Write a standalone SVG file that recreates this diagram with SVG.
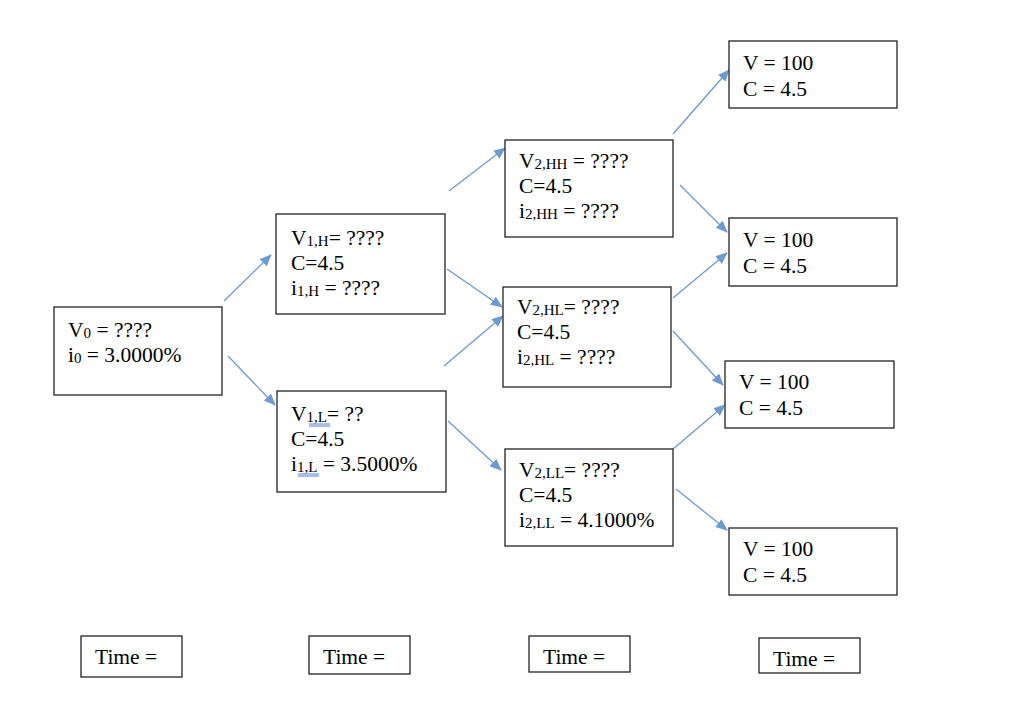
<svg xmlns="http://www.w3.org/2000/svg" width="1024" height="728" viewBox="0 0 1024 728" font-family="'Liberation Serif', 'Times New Roman', serif">
<style>
.box{fill:#fff;stroke:#222;stroke-width:1.3}
.t{font-family:'Liberation Serif','Times New Roman',serif;font-size:21.5px;fill:#000}
.s{font-size:15px}
.c{stroke:#6C9BD2;stroke-width:1.3;fill:none;marker-end:url(#ah)}
.sq{stroke:#3B6FD8;stroke-width:0.9}
</style>
<defs>
<marker id="ah" markerWidth="12" markerHeight="10" refX="11" refY="5" orient="auto" markerUnits="userSpaceOnUse">
<path d="M0,0 L12,5 L0,10 Z" fill="#6C9BD2"/>
</marker>
</defs>
<rect width="1024" height="728" fill="#fff"/>
<g id="connectors">
<line class="c" x1="224" y1="301" x2="271" y2="255"/>
<line class="c" x1="228" y1="356" x2="275" y2="405"/>
<line class="c" x1="449" y1="191" x2="505" y2="148"/>
<line class="c" x1="447" y1="269" x2="502" y2="307"/>
<line class="c" x1="444" y1="366" x2="503" y2="316"/>
<line class="c" x1="448" y1="421" x2="501" y2="470"/>
<line class="c" x1="673" y1="134" x2="729" y2="70"/>
<line class="c" x1="680" y1="185" x2="727" y2="232"/>
<line class="c" x1="673" y1="298" x2="727" y2="253"/>
<line class="c" x1="673" y1="331" x2="723" y2="385"/>
<line class="c" x1="673" y1="449" x2="725" y2="405"/>
<line class="c" x1="676" y1="489" x2="727" y2="530"/>
</g>
<g id="v0">
<rect class="box" x="54" y="307" width="168" height="88"/>
<text class="t" x="68" y="337">V<tspan class="s" dy="1">0</tspan><tspan dy="-1"> = ????</tspan></text>
<text class="t" x="68" y="362">i<tspan class="s" dy="1">0</tspan><tspan dy="-1"> = 3.0000%</tspan></text>
</g>
<g id="v1h">
<rect class="box" x="276" y="214" width="169" height="100"/>
<text class="t" x="291" y="245">V<tspan class="s" dy="1">1,H</tspan><tspan dy="-1">= ????</tspan></text>
<text class="t" x="291" y="270">C=4.5</text>
<text class="t" x="291" y="295">i<tspan class="s" dy="1">1,H</tspan><tspan dy="-1"> = ????</tspan></text>
</g>
<g id="v1l">
<rect class="box" x="277" y="391" width="169" height="101"/>
<text class="t" x="291" y="421">V<tspan class="s" dy="1">1,L</tspan><tspan dy="-1">= ??</tspan></text>
<text class="t" x="291" y="446">C=4.5</text>
<text class="t" x="291" y="471">i<tspan class="s" dy="1">1,L</tspan><tspan dy="-1"> = 3.5000%</tspan></text>
<line class="sq" x1="309" y1="424" x2="330" y2="424"/>
<line class="sq" x1="309" y1="426" x2="330" y2="426"/>
<line class="sq" x1="298" y1="474" x2="319" y2="474"/>
<line class="sq" x1="298" y1="476" x2="319" y2="476"/>
</g>
<g id="v2hh">
<rect class="box" x="505" y="140" width="168" height="97"/>
<text class="t" x="519" y="168">V<tspan class="s" dy="1">2,HH</tspan><tspan dy="-1"> = ????</tspan></text>
<text class="t" x="519" y="193">C=4.5</text>
<text class="t" x="519" y="218">i<tspan class="s" dy="1">2,HH</tspan><tspan dy="-1"> = ????</tspan></text>
</g>
<g id="v2hl">
<rect class="box" x="503" y="287" width="168" height="100"/>
<text class="t" x="517" y="314">V<tspan class="s" dy="1">2,HL</tspan><tspan dy="-1">= ????</tspan></text>
<text class="t" x="517" y="339">C=4.5</text>
<text class="t" x="517" y="364">i<tspan class="s" dy="1">2,HL</tspan><tspan dy="-1"> = ????</tspan></text>
</g>
<g id="v2ll">
<rect class="box" x="505" y="449" width="168" height="97"/>
<text class="t" x="519" y="477">V<tspan class="s" dy="1">2,LL</tspan><tspan dy="-1">= ????</tspan></text>
<text class="t" x="519" y="502">C=4.5</text>
<text class="t" x="519" y="527">i<tspan class="s" dy="1">2,LL</tspan><tspan dy="-1"> = 4.1000%</tspan></text>
</g>
<g id="r1">
<rect class="box" x="729" y="41" width="168" height="67"/>
<text class="t" x="743" y="70">V = 100</text>
<text class="t" x="743" y="96">C = 4.5</text>
</g>
<g id="r2">
<rect class="box" x="729" y="218" width="168" height="68"/>
<text class="t" x="743" y="247">V = 100</text>
<text class="t" x="743" y="273">C = 4.5</text>
</g>
<g id="r3">
<rect class="box" x="725" y="361" width="169" height="67"/>
<text class="t" x="739" y="389">V = 100</text>
<text class="t" x="739" y="415">C = 4.5</text>
</g>
<g id="r4">
<rect class="box" x="729" y="528" width="168" height="67"/>
<text class="t" x="743" y="556">V = 100</text>
<text class="t" x="743" y="582">C = 4.5</text>
</g>
<g id="time0">
<rect class="box" x="81" y="636" width="101" height="41"/>
<text class="t" x="95" y="664">Time =</text>
</g>
<g id="time1">
<rect class="box" x="309" y="636" width="101" height="38"/>
<text class="t" x="323" y="664">Time =</text>
</g>
<g id="time2">
<rect class="box" x="529" y="636" width="101" height="36"/>
<text class="t" x="543" y="664">Time =</text>
</g>
<g id="time3">
<rect class="box" x="759" y="638" width="101" height="35"/>
<text class="t" x="773" y="666">Time =</text>
</g>
</svg>
